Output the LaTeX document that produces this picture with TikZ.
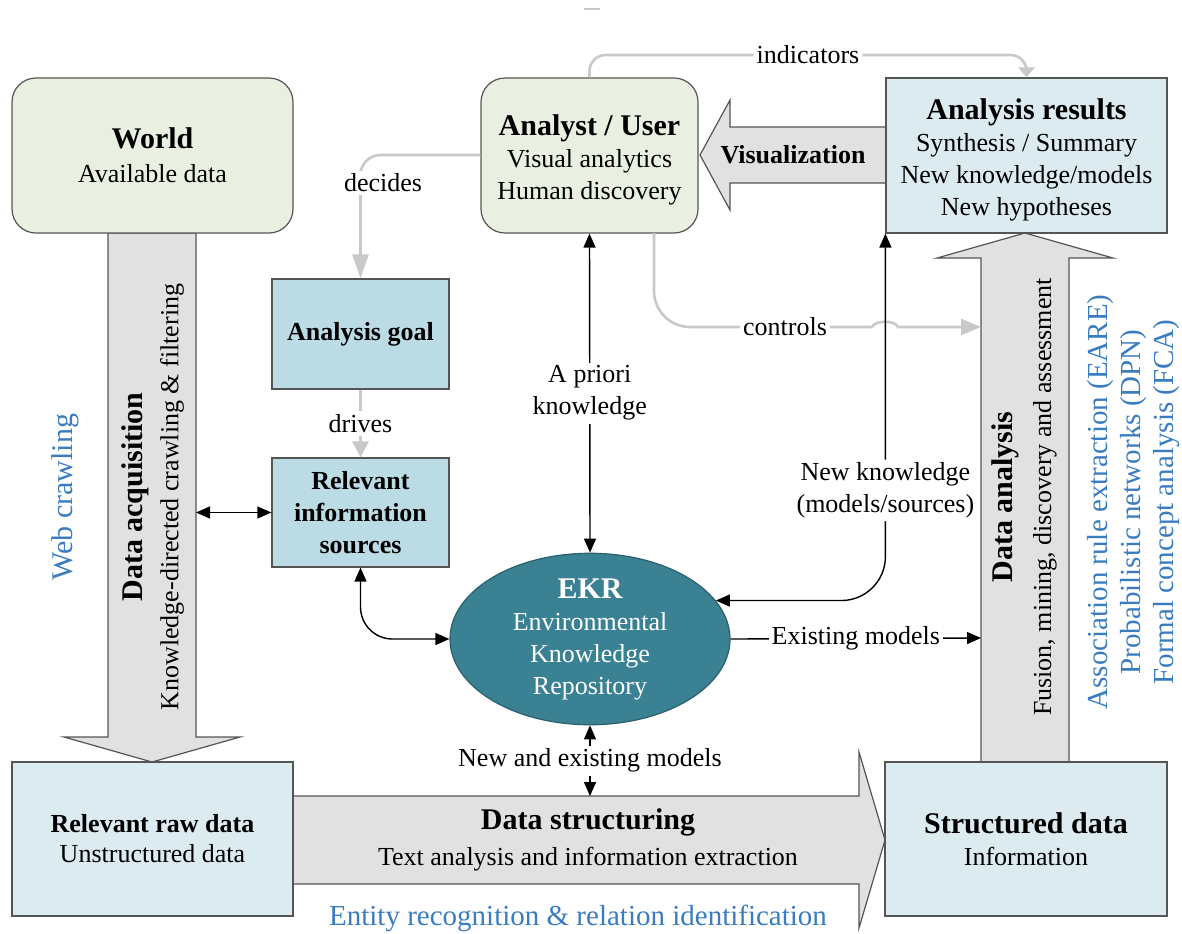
\documentclass[tikz,border=0pt]{standalone}
\usepackage{fontspec}
\setmainfont{Liberation Serif}
\usetikzlibrary{shapes.geometric, arrows.meta, calc}
\definecolor{greenbox}{HTML}{EAF0E1}
\definecolor{lightblue}{HTML}{DCEBF0}
\definecolor{midblue}{HTML}{BBDCE4}
\definecolor{ekrfill}{HTML}{3A8194}
\definecolor{ekrborder}{HTML}{2B5F6E}
\definecolor{arrowgray}{HTML}{E1E1E1}
\definecolor{linegray}{HTML}{C9C9C9}
\definecolor{bluetext}{HTML}{3A7CC0}
\definecolor{bordercol}{HTML}{555555}
\newcommand{\fnorm}{\fontsize{13}{16}\selectfont}
\newcommand{\fbig}{\fontsize{15}{17}\selectfont}
\newcommand{\fblue}{\fontsize{14.5}{16.5}\selectfont}
\begin{document}
\begin{tikzpicture}[x=0.5pt, y=-0.5pt,
  >={Triangle[length=7pt,width=6pt]},
  box/.style={draw=bordercol, line width=0.6pt, inner sep=0pt, align=center, font=\fnorm},
  gbox/.style={box, fill=greenbox, rounded corners=12pt},
  lbbox/.style={box, fill=lightblue},
  mbbox/.style={box, fill=midblue},
  blockarrow/.style={draw=bordercol, fill=arrowgray, line width=0.6pt, line join=miter},
  gline/.style={draw=linegray, line width=1.3pt},
  bline/.style={draw=black, line width=0.7pt},
  lbl/.style={fill=white, inner sep=1.5pt, font=\fnorm, align=center},
  btext/.style={align=center, inner sep=0pt, font=\fnorm},
  rtext/.style={rotate=90, align=center, inner sep=0pt}
]
\useasboundingbox (0,0) rectangle (1182,933);
\fill[white] (0,0) rectangle (1182,933);

% small mark at the top
\draw[linegray, line width=1pt] (584,9) -- (600,9);

% block arrows
\draw[blockarrow] (108,233) -- (196,233) -- (196,737) -- (240,737) -- (152,762) -- (64,737) -- (108,737) -- cycle;
\draw[blockarrow] (981,762) -- (981,258) -- (937,258) -- (1025,233) -- (1113,258) -- (1069,258) -- (1069,762) -- cycle;
\draw[blockarrow] (886,127) -- (730,127) -- (730,100) -- (700,155) -- (730,210) -- (730,183) -- (886,183) -- cycle;
\draw[blockarrow] (293,796) -- (859,796) -- (859,752) -- (885,840) -- (859,928) -- (859,884) -- (293,884) -- cycle;

% boxes
\node[gbox, minimum width=140.5pt, minimum height=77.5pt] (world) at (152.5,155.5)
  {{\fbig\bfseries World}\\[1pt]Available data};
\node[gbox, minimum width=108.5pt, minimum height=77.5pt] (analyst) at (589.5,155.5) {};
\node[btext] (analystT) at (589.5,159.5)
  {{\fbig\bfseries Analyst / User}\\Visual analytics\\Human discovery};
\node[lbbox, minimum width=140.5pt, minimum height=77.5pt] (results) at (1026.5,155.5) {};
\node[btext] (resultsT) at (1026.5,159.5)
  {{\fbig\bfseries Analysis results}\\Synthesis / Summary\\New knowledge/models\\New hypotheses};
\node[mbbox, minimum width=88.5pt, minimum height=55pt, font=\fnorm\bfseries] (goal) at (360.5,334) {Analysis goal};
\node[mbbox, minimum width=88.5pt, minimum height=54.5pt, font=\fnorm\bfseries] (ris) at (360.5,512.5)
  {Relevant\\information\\sources};
\node[lbbox, minimum width=140.5pt, minimum height=77pt] (raw) at (152.5,839)
  {{\bfseries Relevant raw data}\\[-1pt]Unstructured data};
\node[lbbox, minimum width=141pt, minimum height=77pt] (struct) at (1026,839)
  {{\fbig\bfseries Structured data}\\Information};
\node[ellipse, draw=ekrborder, fill=ekrfill, line width=0.6pt, minimum width=140pt, minimum height=78pt,
  inner sep=0pt, text=white, align=center, font=\fnorm] (ekr) at (590,639)
  {{\fbig\bfseries EKR}\\Environmental\\Knowledge\\Repository};

% texts on block arrows
\node[rtext, font=\fbig\bfseries] (acqT) at (135,497) {Data acquisition};
\node[rtext, font=\fnorm] (acqS) at (172,497) {Knowledge-directed crawling \& filtering};
\node[rtext, font=\fbig, text=bluetext] (web) at (65,497) {Web crawling};
\node[rtext, font=\fbig\bfseries] (daT) at (1005,497) {Data analysis};
\node[rtext, font=\fnorm] (daS) at (1045,497) {Fusion, mining, discovery and assessment};
\node[rtext, font=\fblue, text=bluetext] (algo) at (1134,502)
  {Association rule extraction (EARE)\\Probabilistic networks (DPN)\\Formal concept analysis (FCA)};
\node[font=\fnorm\bfseries, inner sep=0pt] (vis) at (793,155) {Visualization};
\node[font=\fbig\bfseries, inner sep=0pt] (dsT) at (588,822) {Data structuring};
\node[font=\fnorm, inner sep=0pt] (dsS) at (588,859) {Text analysis and information extraction};
\node[font=\fblue, text=bluetext, inner sep=0pt] (ent) at (578,918) {Entity recognition \& relation identification};

% coordinates
\coordinate (acqR) at (196,512.5);
\coordinate (daL) at (981,638);
\coordinate (dsTop) at (590,796);
\coordinate (indy) at (0,55);
\coordinate (ctl) at (654,233);
\coordinate (hopA) at (872,327);
\coordinate (hopB) at (898,327);
\coordinate (ctlEnd) at (981,327);

% gray connectors
\draw[gline, -{Triangle[length=5pt,width=8pt]}, rounded corners=8pt]
  (analyst.north) |- node[lbl, pos=0.75] (indl) {indicators} (results.north |- indy) -- (results.north);
\draw[gline, -{Triangle[length=12pt,width=8pt]}, rounded corners=10pt] (analyst.west |- 0,155) -| (goal.north);
\node[lbl] (decl) at (383,183) {decides};
\draw[gline, -{Triangle[length=8pt,width=8pt]}] (goal.south) -- node[lbl] (drl) {drives} (ris.north);
\draw[gline, rounded corners=18pt] (ctl) |- (hopA);
\draw[gline, -{Triangle[length=10pt,width=8pt]}]
  (hopA) .. controls (875,320) and (895,320) .. (hopB) -- (ctlEnd);
\node[lbl] (ctll) at (785,327) {controls};

% black connectors
\draw[bline, <->] (analyst.south) -- node[lbl] (apl) {A priori\\knowledge} (ekr.north);
\draw[bline, <->, rounded corners=22pt] (ekr.17) -| node[lbl, pos=0.65] (nkl) {New knowledge\\(models/sources)} (results.south west);
\draw[bline, <->, rounded corners=16pt] (ris.south) |- (ekr.west);
\draw[bline, ->] (ekr.east) -- node[lbl] (eml) {Existing models} (daL);
\draw[bline, <->] (acqR) -- (ris.west);
\draw[bline, <->] (ekr.south) -- node[lbl] (nem) {New and existing models} (dsTop);
\end{tikzpicture}
\end{document}
